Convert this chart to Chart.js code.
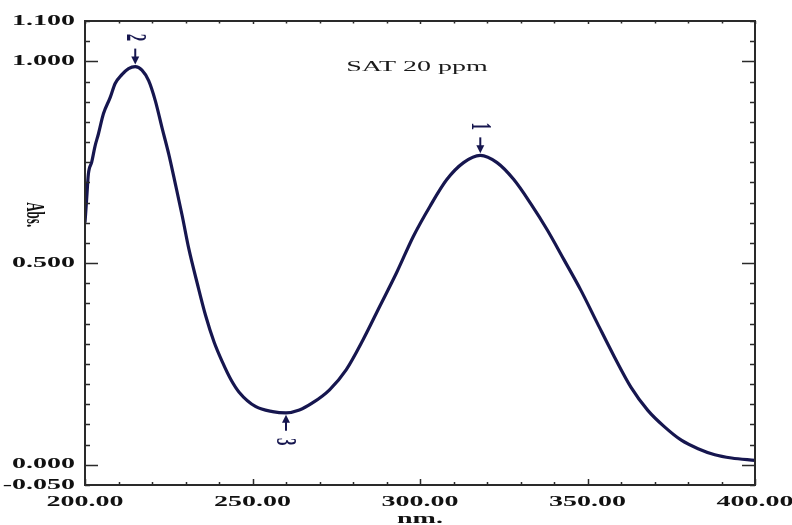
<!DOCTYPE html>
<html>
<head>
<meta charset="utf-8">
<script src="https://cdn.jsdelivr.net/npm/chart.js@4"></script>
<style>
  html, body { margin: 0; padding: 0; background: #fff; }
  #wrap { width: 792px; height: 525px; position: relative; }
</style>
</head>
<body>
<div id="wrap"><canvas id="spectrum"></canvas></div>
<script>
// spectrum (nm, Abs.)
const wavelengths = [200, 200.5, 201, 202, 203, 204, 205.5, 207.5, 209, 211,
  213, 215, 217, 219, 221, 223, 225, 227, 229, 231,
  233.5, 236, 238.5, 241, 243.5, 246, 251, 256, 260, 264,
  268, 273, 278, 283, 288, 293, 298, 303, 308, 313,
  318, 323, 328, 333, 338, 343, 348, 353, 358, 363,
  368, 373, 378, 383, 388, 393, 400];
const absorbance = [0.60, 0.66, 0.72, 0.75, 0.79, 0.82, 0.87, 0.91, 0.945, 0.967,
  0.982, 0.987, 0.978, 0.952, 0.902, 0.835, 0.77, 0.695, 0.618, 0.535,
  0.45, 0.37, 0.305, 0.255, 0.212, 0.18, 0.144, 0.132, 0.129, 0.136,
  0.154, 0.186, 0.236, 0.31, 0.393, 0.476, 0.566, 0.641, 0.707, 0.749,
  0.767, 0.749, 0.707, 0.648, 0.582, 0.508, 0.433, 0.35, 0.268, 0.192,
  0.135, 0.094, 0.061, 0.04, 0.025, 0.017, 0.011];

// peak / valley markers
const peakNames = ['1', '2', '3'];
const peakNm = [318, 215, 260];
const peakAbs = [0.767, 0.987, 0.129];
const peakIsValley = [false, false, true];

// axes
const xLabelValues = [200, 250, 300, 350, 400];
const yLabelValues = [1.1, 1.0, 0.5, 0.0, -0.05];
const yMajorValues = [1.0, 0.5, 0.0];
const sampleName = 'SAT 20 ppm';
const xTitle = 'nm.';
const yTitle = 'Abs.';

const NAVY = '#16164f';
const STRETCH = 2; // text in the picture is drawn twice as wide as tall

function wideText(ctx, str, x, y, align, rotate) {
  ctx.save();
  ctx.translate(x, y);
  ctx.scale(STRETCH, 1);
  if (rotate) ctx.rotate(Math.PI / 2);
  ctx.textAlign = align;
  ctx.textBaseline = 'middle';
  ctx.fillText(str, 0, 0);
  ctx.restore();
}

const near = (a, b) => Math.abs(a - b) < 1e-6;

const spectrumDecor = {
  id: 'spectrumDecor',
  beforeDraw(chart) {
    const ctx = chart.ctx;
    ctx.save();
    ctx.fillStyle = '#fff';
    ctx.fillRect(0, 0, chart.width, chart.height);
    ctx.restore();
  },
  afterDraw(chart) {
    const { ctx, chartArea: a, scales: { x, y } } = chart;
    ctx.save();

    // inward ticks on all four sides
    ctx.strokeStyle = '#2a2a2a';
    ctx.lineWidth = 1.5;
    ctx.beginPath();
    x.ticks.forEach(t => {
      const px = Math.round(x.getPixelForValue(t.value)) + 0.5;
      const major = xLabelValues.some(v => near(v, t.value));
      ctx.moveTo(px, a.bottom);
      ctx.lineTo(px, a.bottom - (major ? 6 : 3));
      ctx.moveTo(px, a.top);
      ctx.lineTo(px, a.top + (major ? 3 : 2.5));
    });
    y.ticks.forEach(t => {
      const py = Math.round(y.getPixelForValue(t.value)) + 0.5;
      const major = yMajorValues.some(v => near(v, t.value));
      const len = major ? 13 : 5;
      ctx.moveTo(a.left, py);
      ctx.lineTo(a.left + len, py);
      ctx.moveTo(a.right, py);
      ctx.lineTo(a.right - len, py);
    });
    ctx.stroke();

    // frame
    ctx.lineWidth = 2;
    ctx.strokeStyle = '#2a2a2a';
    ctx.strokeRect(a.left, a.top, a.right - a.left, a.bottom - a.top);

    // tick labels
    ctx.fillStyle = '#111';
    ctx.font = 'bold 14px "Liberation Serif", serif';
    yLabelValues.forEach(v => {
      wideText(ctx, v.toFixed(3), a.left - 10, y.getPixelForValue(v), 'right');
    });
    xLabelValues.forEach(v => {
      wideText(ctx, v.toFixed(2), x.getPixelForValue(v), a.bottom + 17, 'center');
    });

    // axis titles
    const midX = (a.left + a.right) / 2;
    wideText(ctx, xTitle, midX, a.bottom + 34, 'center');
    ctx.font = 'bold 13px "Liberation Serif", serif';
    wideText(ctx, yTitle, 34, y.getPixelForValue(0.62), 'center', true);

    // sample name
    ctx.font = '14px "Liberation Serif", serif';
    ctx.fillStyle = '#1a1a1a';
    wideText(ctx, sampleName, midX - 3, y.getPixelForValue(0.985), 'center');

    // peak arrows + labels
    ctx.strokeStyle = NAVY;
    ctx.fillStyle = NAVY;
    ctx.lineWidth = 2;
    ctx.font = 'bold 15px "Liberation Serif", serif';
    peakNames.forEach((name, i) => {
      const px = x.getPixelForValue(peakNm[i]);
      const dir = peakIsValley[i] ? -1 : 1; // +1 points down
      const tip = y.getPixelForValue(peakAbs[i]) - dir * 2;
      const tail = tip - dir * 16;
      ctx.beginPath();
      ctx.moveTo(px, tail);
      ctx.lineTo(px, tip - dir * 6);
      ctx.stroke();
      ctx.beginPath();
      ctx.moveTo(px, tip);
      ctx.lineTo(px - 4, tip - dir * 8);
      ctx.lineTo(px + 4, tip - dir * 8);
      ctx.closePath();
      ctx.fill();
      wideText(ctx, name, px - 1, tip - dir * 27, 'center', true);
    });

    ctx.restore();
  }
};

new Chart(document.getElementById('spectrum'), {
  type: 'line',
  data: {
    datasets: [{
      label: sampleName,
      data: wavelengths.map((w, i) => ({ x: w, y: absorbance[i] })),
      borderColor: NAVY,
      borderWidth: 3.2,
      pointRadius: 0,
      fill: false,
      cubicInterpolationMode: 'monotone'
    }]
  },
  options: {
    responsive: true,
    maintainAspectRatio: false,
    animation: false,
    layout: { padding: { top: 21, right: 37, left: 0, bottom: 0 } },
    plugins: {
      legend: { display: false },
      tooltip: { enabled: false }
    },
    scales: {
      x: {
        type: 'linear',
        min: 200,
        max: 400,
        grid: { display: false },
        border: { display: false },
        ticks: { display: false },
        afterBuildTicks(scale) {
          const ticks = [];
          for (let v = 200; v <= 400; v += 10) ticks.push({ value: v });
          scale.ticks = ticks;
        },
        afterFit(scale) { scale.height = 40; }
      },
      y: {
        type: 'linear',
        min: -0.05,
        max: 1.1,
        grid: { display: false },
        border: { display: false },
        ticks: { display: false },
        afterBuildTicks(scale) {
          const ticks = [];
          for (let k = -1; k <= 22; k++) ticks.push({ value: k * 0.05 });
          scale.ticks = ticks;
        },
        afterFit(scale) { scale.width = 85; }
      }
    }
  },
  plugins: [spectrumDecor]
});
</script>
</body>
</html>
